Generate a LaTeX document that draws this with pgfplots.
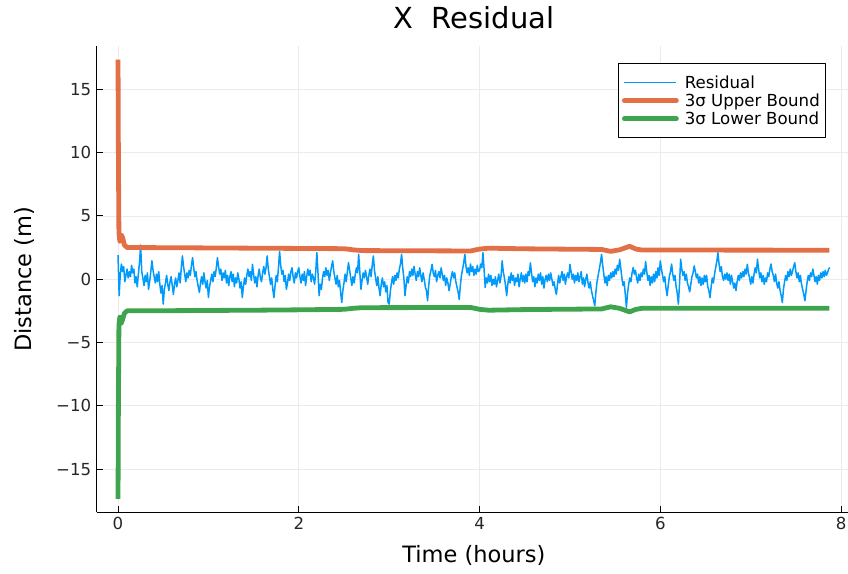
\documentclass[border=0pt]{standalone}
\usepackage{pgfplots}
\usepackage{pgfplotstable}
\pgfplotsset{compat=1.18}
\usepackage{fontspec}
\setmainfont{DejaVu Sans}
\definecolor{cblue}{HTML}{009AFA}
\definecolor{corange}{HTML}{E36F47}
\definecolor{cgreen}{HTML}{3EA44E}
\definecolor{gridc}{HTML}{EBEBEB}
\newcommand{\tickfont}{\fontsize{16.6}{19}\selectfont}
\newcommand{\guidefont}{\fontsize{22.5}{26}\selectfont}
\newcommand{\titlefont}{\fontsize{29}{33}\selectfont}

% residual, one value every 0.0125 h (one line = 0.25 h)
\pgfplotstableread[row sep=\\]{
y\\
1.9\\ -1.3\\ 0.4\\ 1.2\\ 0.6\\ 1.0\\ -0.2\\ 0.3\\ 0.8\\ 0.1\\ 0.6\\ 0.2\\ 1.1\\ 0.5\\ 0.8\\ -0.3\\ 0.2\\ -0.6\\ 0.4\\ 1.3\\
2.7\\ 0.6\\ 0.1\\ -0.5\\ 0.3\\ -0.2\\ 0.5\\ -0.8\\ -0.2\\ 0.6\\ 1.45\\ 0.7\\ 0.2\\ -0.3\\ 0.4\\ -0.2\\ 0.6\\ -0.4\\ -1.1\\ -0.5\\
-1.97\\ -0.8\\ -0.3\\ 0.3\\ -0.4\\ -0.9\\ -0.2\\ 0.2\\ -0.5\\ -1.2\\ -0.4\\ 0.1\\ -0.6\\ -0.1\\ 0.5\\ -0.3\\ 0.9\\ 1.84\\ 1.0\\ 0.4\\
-0.2\\ 0.5\\ 0.1\\ 0.7\\ 0.3\\ 1.1\\ 1.7\\ 0.9\\ 0.2\\ 0.6\\ -0.1\\ -0.6\\ -1.05\\ -0.3\\ 0.2\\ -0.4\\ 0.5\\ -0.2\\ -0.7\\ -0.1\\
-1.45\\ -0.6\\ -0.1\\ 0.4\\ -0.2\\ 0.6\\ 0.2\\ 0.9\\ 1.7\\ 1.0\\ 0.4\\ 0.8\\ -0.1\\ 0.5\\ 0.1\\ 0.7\\ -0.3\\ 0.3\\ -0.5\\ 0.2\\
0.6\\ -0.2\\ 0.4\\ -0.6\\ 0.1\\ -0.3\\ 0.5\\ 0.0\\ -0.7\\ -0.2\\ -1.45\\ -0.6\\ 0.1\\ -0.4\\ 0.3\\ 0.8\\ 0.2\\ 0.6\\ -0.1\\ 1.18\\
0.4\\ -0.3\\ 0.2\\ -0.6\\ 0.3\\ 0.8\\ 0.1\\ -0.2\\ 0.5\\ 1.0\\ 0.4\\ 0.9\\ 1.84\\ 0.8\\ 0.2\\ -0.4\\ 0.1\\ -0.8\\ -1.45\\ -0.5\\
0.3\\ -0.2\\ 0.9\\ 2.2\\ 1.1\\ 0.4\\ 0.7\\ -0.2\\ 0.3\\ -0.8\\ -0.3\\ 0.4\\ -0.1\\ 0.6\\ 0.9\\ 0.2\\ -0.3\\ 0.5\\ 0.1\\ 0.6\\
0.9\\ 0.2\\ -0.3\\ 0.4\\ -0.1\\ 0.6\\ -0.5\\ 0.2\\ 0.8\\ 0.3\\ 0.7\\ -0.2\\ 0.4\\ 0.1\\ -0.4\\ 0.6\\ 2.1\\ 0.5\\ -1.3\\ -0.4\\
-0.8\\ 0.1\\ 0.6\\ 0.2\\ 0.9\\ 0.3\\ 0.7\\ -0.1\\ 0.5\\ 1.0\\ 1.45\\ 0.6\\ 0.1\\ -0.4\\ 0.3\\ -0.6\\ -0.1\\ -1.0\\ -1.84\\ -0.9\\
-0.3\\ 0.4\\ -0.2\\ 0.6\\ 1.3\\ 0.7\\ 0.1\\ -0.5\\ 0.2\\ -0.3\\ 0.4\\ 0.9\\ 0.5\\ 1.97\\ 0.6\\ -0.8\\ -0.1\\ 0.5\\ 0.1\\ 0.7\\
0.2\\ -0.4\\ 0.3\\ 0.8\\ 0.2\\ 1.1\\ 1.84\\ 0.7\\ 0.1\\ -0.5\\ 0.2\\ -0.7\\ -1.3\\ -0.4\\ 0.1\\ -0.6\\ -0.2\\ -1.0\\ -0.5\\ -1.84\\
-1.97\\ -1.0\\ -0.3\\ 0.2\\ -0.4\\ 0.3\\ -0.1\\ 0.5\\ 0.1\\ 0.8\\ 1.2\\ 1.97\\ 0.9\\ 0.1\\ -1.3\\ -0.5\\ 0.2\\ -0.3\\ 0.6\\ 0.2\\
0.8\\ 0.3\\ 1.0\\ 0.4\\ -0.1\\ 0.6\\ 0.2\\ 0.9\\ 0.3\\ -0.2\\ 0.5\\ 0.0\\ -0.6\\ -0.9\\ -1.7\\ -0.5\\ 0.3\\ 0.7\\ 1.18\\ 0.5\\
0.2\\ 0.7\\ -0.2\\ 0.3\\ 0.6\\ 0.1\\ 0.9\\ 0.4\\ -0.1\\ 0.3\\ -0.5\\ 0.1\\ -0.3\\ -0.9\\ -0.4\\ 0.2\\ 0.6\\ 0.1\\ 0.5\\ -0.2\\
-0.6\\ -1.0\\ -1.6\\ -0.5\\ 0.3\\ 0.8\\ 1.3\\ 1.97\\ 1.0\\ 0.5\\ 0.9\\ 0.3\\ 1.2\\ 0.6\\ 1.0\\ 0.3\\ 0.8\\ 0.4\\ 1.1\\ 0.6\\
0.7\\ 1.2\\ 0.9\\ 2.1\\ 0.8\\ -0.65\\ 0.1\\ -0.3\\ 0.4\\ -0.2\\ 0.3\\ -0.5\\ 0.0\\ -0.4\\ 0.2\\ -0.6\\ -0.1\\ 0.4\\ -0.3\\ 0.2\\
1.45\\ 0.6\\ 0.1\\ -0.5\\ -1.3\\ -0.4\\ 0.2\\ -0.3\\ 0.5\\ -0.1\\ 0.3\\ -0.5\\ 0.1\\ -0.2\\ 0.4\\ -0.6\\ 0.0\\ 0.5\\ -0.2\\ 0.3\\
-0.3\\ 0.4\\ -0.2\\ 0.6\\ 0.3\\ 1.3\\ 0.5\\ -0.2\\ 0.2\\ -0.6\\ 0.1\\ -0.3\\ 0.4\\ -0.1\\ 0.5\\ -0.4\\ 0.2\\ -0.7\\ 0.0\\ 0.3\\
-0.2\\ 0.4\\ -0.1\\ 0.5\\ 0.0\\ -0.5\\ -0.2\\ -0.8\\ -1.2\\ -0.4\\ 0.3\\ -0.3\\ 0.2\\ 0.6\\ -0.1\\ 0.4\\ -0.4\\ 0.2\\ 0.5\\ 0.1\\
1.18\\ 0.6\\ 0.0\\ 0.4\\ -0.3\\ 0.3\\ -0.1\\ 0.5\\ -0.2\\ 0.2\\ 0.6\\ -0.4\\ 0.1\\ -0.6\\ 0.0\\ 0.4\\ -0.3\\ -0.7\\ -0.2\\ -0.9\\
-1.3\\ -1.7\\ -2.1\\ -1.0\\ -0.2\\ 0.3\\ 0.8\\ 1.3\\ 1.97\\ 1.1\\ 0.4\\ -0.3\\ 0.2\\ -0.5\\ 0.3\\ -0.1\\ 0.5\\ 0.1\\ 0.6\\ 0.2\\
0.8\\ 0.4\\ 1.1\\ 0.7\\ 1.58\\ 0.9\\ 0.1\\ -0.5\\ -0.2\\ -1.2\\ -2.24\\ -1.1\\ -0.4\\ 0.1\\ -0.2\\ 0.5\\ 0.92\\ 0.4\\ 0.7\\ 0.1\\
-0.3\\ 0.4\\ -0.1\\ 0.5\\ 0.2\\ 0.8\\ 0.4\\ 1.4\\ 0.6\\ -0.1\\ 0.3\\ -0.5\\ 0.2\\ -0.3\\ 0.4\\ -0.2\\ 0.6\\ 0.1\\ 0.9\\ 0.3\\
1.45\\ 0.8\\ 0.3\\ -0.2\\ 0.2\\ -0.7\\ -1.3\\ -0.5\\ 0.2\\ 0.6\\ 1.2\\ 0.4\\ -0.1\\ 0.3\\ -0.6\\ -1.1\\ -1.97\\ -0.4\\ 1.58\\ 0.8\\
0.3\\ 0.6\\ -0.1\\ 0.4\\ -0.3\\ -0.6\\ -1.0\\ -0.4\\ 0.2\\ 0.5\\ 1.05\\ 0.6\\ 0.1\\ 0.4\\ -0.3\\ 0.2\\ -0.5\\ 0.1\\ -0.4\\ 0.3\\
-0.2\\ 0.3\\ -0.6\\ -0.9\\ -1.45\\ -0.6\\ 0.1\\ -0.3\\ 0.4\\ 0.9\\ 1.4\\ 2.1\\ 1.2\\ 0.6\\ 1.0\\ 0.2\\ -0.1\\ 0.4\\ 0.0\\ 0.5\\
-0.1\\ 0.4\\ -0.4\\ 0.3\\ -0.2\\ -0.7\\ -0.3\\ -0.9\\ -0.2\\ 0.3\\ -0.1\\ 0.5\\ 0.1\\ 0.6\\ 0.2\\ 0.8\\ 0.4\\ 1.18\\ 0.5\\ 0.1\\
-0.4\\ 0.2\\ -0.3\\ 0.4\\ 0.9\\ 0.5\\ 1.58\\ 0.8\\ 0.1\\ 0.5\\ -0.2\\ 0.3\\ -0.4\\ 0.1\\ -0.2\\ 0.5\\ 0.2\\ 0.8\\ 1.2\\ 0.6\\
0.3\\ -0.2\\ 0.4\\ -0.3\\ -0.7\\ -0.2\\ -0.9\\ -1.3\\ -1.84\\ -0.8\\ -0.2\\ 0.3\\ -0.1\\ 0.6\\ 0.2\\ 0.8\\ 0.3\\ 0.6\\ 1.0\\ 1.3\\
0.6\\ 0.1\\ 0.5\\ -0.2\\ 0.3\\ -0.4\\ -0.8\\ -1.2\\ -1.7\\ -0.9\\ -0.2\\ 0.3\\ -0.1\\ 0.5\\ 0.2\\ 0.8\\ 0.3\\ -0.2\\ 0.2\\ -0.4\\
0.3\\ -0.1\\ 0.5\\ 0.1\\ 0.6\\ 0.2\\ 0.7\\ 0.3\\ 0.5\\ 0.8\\ 0.92\\
}\resid

\begin{document}
\begin{tikzpicture}
\begin{axis}[
  at={(0pt,0pt)}, anchor=south west,
  scale only axis, width=754.4pt, height=465.6pt,
  xmin=-0.236, xmax=8.111, ymin=-18.39, ymax=18.39,
  axis lines*=left, axis line style={black, line width=1pt},
  tick align=inside, major tick length=6pt,
  tick style={black, line width=0.9pt},
  xtick={0,2,4,6,8}, ytick={-15,-10,-5,0,5,10,15},
  yticklabels={−15,−10,−5,0,5,10,15},
  xticklabels={0,2,4,6,8},
  ticklabel style={font=\tickfont, text=black!85},
  xticklabel style={yshift=-2pt},
  yticklabel style={xshift=-2pt},
  grid=major, grid style={gridc, line width=0.8pt},
  title={X\ \ Residual}, title style={font=\titlefont, at={(0.5,1)}, anchor=center, yshift=23pt},
  xlabel={Time (hours)}, ylabel={Distance (m)},
  xlabel style={font=\guidefont, at={(axis description cs:0.5,0)}, anchor=center, yshift=-43pt},
  ylabel style={font=\guidefont, at={(axis description cs:-0.0954,0.5)}, anchor=center},
  legend style={at={(0.967,0.964)}, anchor=north east, draw=black, line width=0.8pt,
    font=\tickfont, fill=white, inner xsep=4pt, inner ysep=10pt,
    row sep=0pt, /tikz/every odd column/.append style={column sep=4pt}},
  legend cell align=left,
  line join=round,
]
\addplot[cblue, line width=1.5pt,
  legend image code/.code={\draw[cblue, line width=1.6pt] (0pt,0pt) -- (52pt,0pt);}]
  table[x expr=\coordindex*0.0125, y=y] {\resid};
\addlegendentry{Residual}
\addplot[corange, line width=4.8pt,
  legend image code/.code={\draw[corange, line width=4.8pt, line cap=round] (0pt,0pt) -- (52pt,0pt);}]
  coordinates {
 (0,17.35) (0.004,10.0) (0.01,3.6) (0.02,3.0) (0.035,3.5) (0.05,3.3) (0.07,2.7)
 (0.1,2.5) (0.5,2.49) (1.0,2.47) (1.5,2.45) (2.0,2.43) (2.5,2.41) (2.6,2.32)
 (2.7,2.26) (3.5,2.24) (3.9,2.23) (4.0,2.38) (4.1,2.45) (4.5,2.4) (5.0,2.37)
 (5.35,2.35) (5.45,2.2) (5.55,2.32) (5.66,2.6) (5.73,2.38) (5.8,2.3) (6.5,2.3) (7.87,2.29)};
\addlegendentry{3σ Upper Bound}
\addplot[cgreen, line width=4.8pt,
  legend image code/.code={\draw[cgreen, line width=4.8pt, line cap=round] (0pt,0pt) -- (52pt,0pt);}]
  coordinates {
 (0,-17.35) (0.004,-10.0) (0.01,-3.6) (0.02,-3.0) (0.035,-3.5) (0.05,-3.2) (0.07,-2.7)
 (0.1,-2.5) (0.5,-2.49) (1.0,-2.47) (1.5,-2.45) (2.0,-2.42) (2.5,-2.38) (2.6,-2.3)
 (2.7,-2.25) (3.5,-2.24) (3.9,-2.23) (4.0,-2.38) (4.1,-2.45) (4.5,-2.4) (5.0,-2.37)
 (5.35,-2.35) (5.45,-2.18) (5.55,-2.3) (5.66,-2.58) (5.73,-2.38) (5.8,-2.3) (6.5,-2.3) (7.87,-2.29)};
\addlegendentry{3σ Lower Bound}
\end{axis}
\pgfresetboundingbox
\path[use as bounding box] (-96.7pt,-61pt) rectangle (751.3pt,512pt);
\end{tikzpicture}
\end{document}
